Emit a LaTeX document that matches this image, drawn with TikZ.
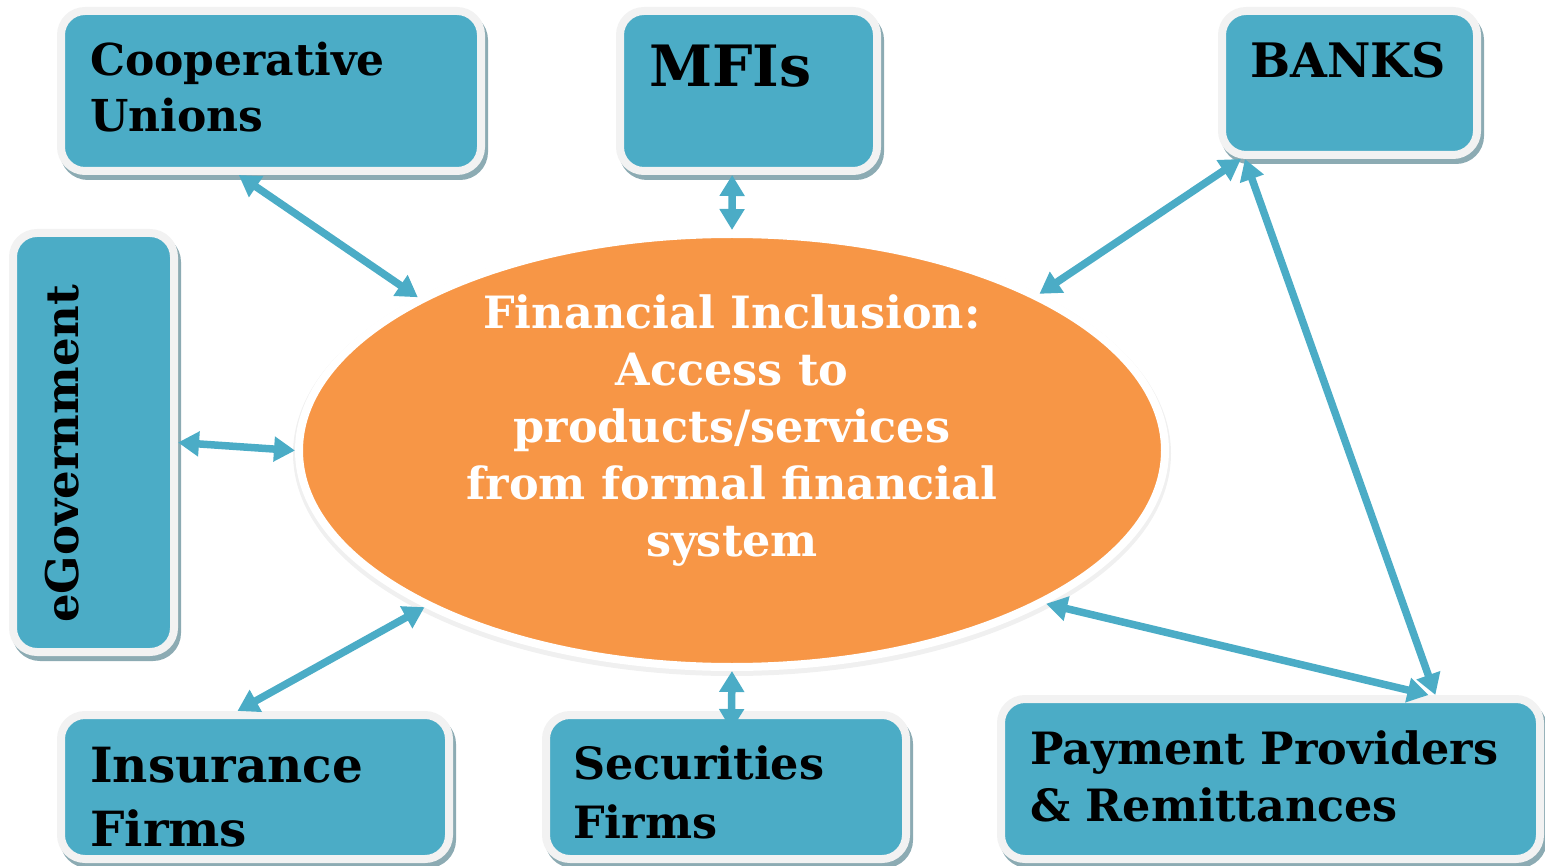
\documentclass[tikz,border=0pt]{standalone}
\usepackage{fontspec}
\setmainfont{DejaVu Serif}
\usetikzlibrary{arrows.meta,shapes.geometric}

\definecolor{boxblue}{HTML}{4BACC6}
\definecolor{boxrim}{HTML}{F2F2F2}
\definecolor{boxshade}{HTML}{8CABB3}
\definecolor{fiorange}{HTML}{F79646}

\tikzset{
  unitbox/.style={rectangle, rounded corners=24pt, fill=boxblue, draw=boxrim, line width=8pt,
    preaction={fill=boxshade, draw=boxshade, line width=8pt, transform canvas={shift={(3pt,-5pt)}}}},
  unittxt/.style={anchor=north west, align=left, text=black, font=\bfseries\fontsize{44}{56}\selectfont},
  link/.style={draw=boxblue, line width=7.5pt, {Triangle[length=21pt,width=24pt]}-{Triangle[length=21pt,width=24pt]}}
}

\begin{document}
\begin{tikzpicture}[x=1pt, y=-1pt, inner sep=0pt]
\useasboundingbox (0,0) rectangle (1545,866);


\node[ellipse, minimum width=866, minimum height=433, fill=fiorange, draw=white, line width=8pt,
  preaction={draw=black!6, line width=12pt, transform canvas={shift={(0pt,-3pt)}}}] (fi) at (732,450.5) {};


\node[unitbox, minimum width=420, minimum height=160] (coop) at (271,91) {};

\node[unitbox, minimum width=257, minimum height=160] (mfi) at (748.5,91) {};

\node[unitbox, minimum width=255, minimum height=144] (banks) at (1349.5,83) {};

\node[unitbox, minimum width=161, minimum height=419] (egov) at (93.5,442.5) {};

\node[unitbox, minimum width=388, minimum height=144] (insur) at (255,787) {};

\node[unitbox, minimum width=360, minimum height=144] (secur) at (726,787) {};

\node[unitbox, minimum width=539, minimum height=160] (pay) at (1270.5,779) {};


% links
\path[link] (coop.249) -- (fi.154);

\path[link] (mfi.259) -- (fi.90);

\path[link] (banks.215) -- (fi.27);

\path[link] (banks.216) -- (pay.27);

\path[link] (egov.east) -- (fi.180);

\path[link] (insur.103) -- (fi.207);

\path[link] ([shift={(0,19)}]secur.86) -- (fi.270);

\path[link] (pay.28) -- (fi.334);


% texts
\node[unittxt] (coop-t) at ([shift={(33,35)}]coop.north west) {Cooperative\\Unions};

\node[unittxt, font=\bfseries\fontsize{57}{70}\selectfont] (mfi-t) at ([shift={(33,38)}]mfi.north west) {MFIs};

\node[unittxt, font=\bfseries\fontsize{47.5}{60}\selectfont] (banks-t) at ([shift={(32,35)}]banks.north west) {BANKS};

\node[unittxt, anchor=base west, rotate=90, font=\bfseries\fontsize{45}{56}\selectfont] (egov-t) at ([shift={(-15.5,-33)}]egov.south) {eGovernment};

\node[unittxt, font=\bfseries\fontsize{48.5}{64}\selectfont] (insur-t) at ([shift={(33,36)}]insur.north west) {Insurance\\Firms};

\node[unittxt, font=\bfseries\fontsize{44.5}{59}\selectfont] (secur-t) at ([shift={(31,34)}]secur.north west) {Securities\\Firms};

\node[unittxt, font=\bfseries\fontsize{44.5}{57}\selectfont] (pay-t) at ([shift={(33,35)}]pay.north west) {Payment Providers\\\& Remittances};

\node[anchor=north, align=center, text=white, font=\bfseries\fontsize{44.5}{57}\selectfont] (fi-t) at ([shift={(0,-156)}]fi.center)
  {Financial Inclusion:\\Access to\\products/services\\from formal financial\\system};

\end{tikzpicture}
\end{document}
